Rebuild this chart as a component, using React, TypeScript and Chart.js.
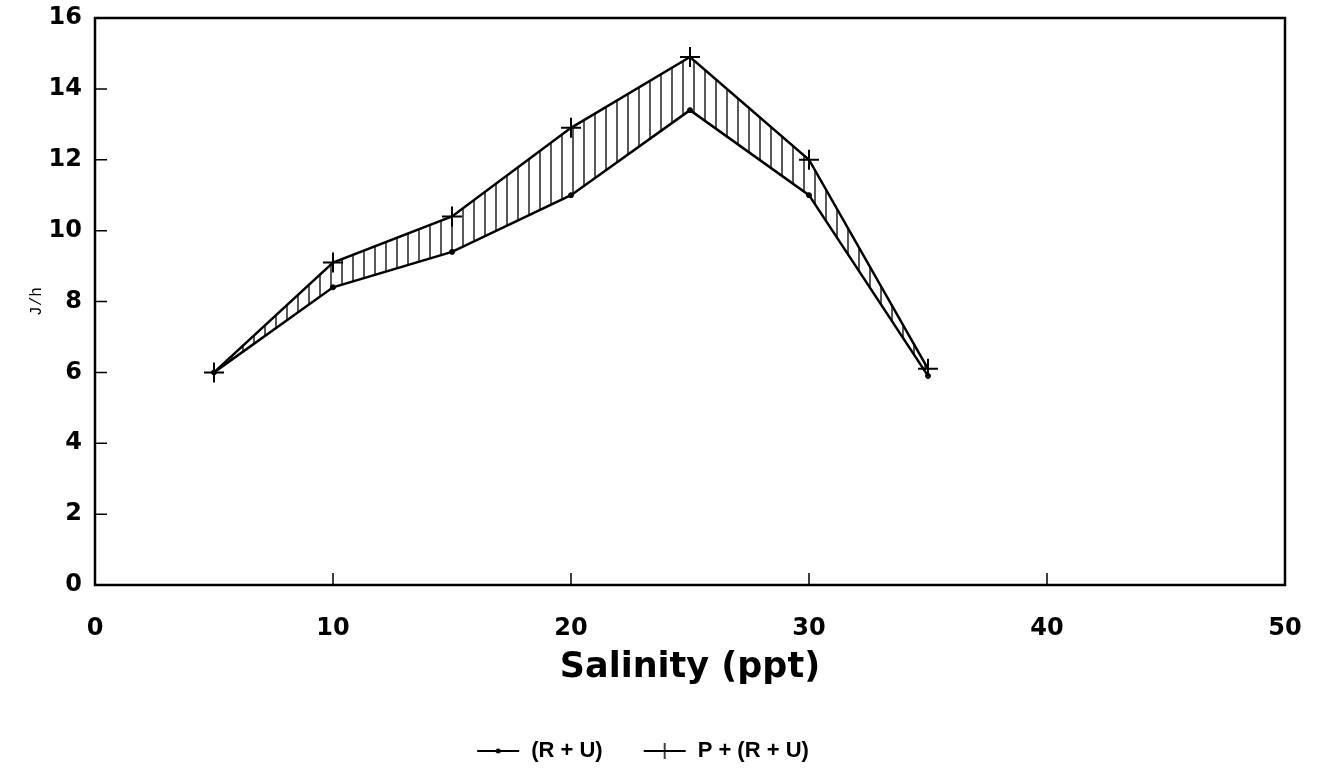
import React, { useEffect, useRef } from "react";
import { Chart, registerables } from "chart.js";

Chart.register(...registerables);

const salinity = [5, 10, 15, 20, 25, 30, 35];
const ruValues = [6.0, 8.4, 9.4, 11.0, 13.4, 11.0, 5.9];
const pruValues = [6.0, 9.1, 10.4, 12.9, 14.9, 12.0, 6.1];
const xTickValues = [0, 10, 20, 30, 40, 50];
const yTickValues = [0, 2, 4, 6, 8, 10, 12, 14, 16];
const seriesLabels = ["(R + U)", "P + (R + U)"];
const xTitle = "Salinity (ppt)";
const yTitle = "J/h";

function makeIcon(kind: "dot" | "cross"): HTMLCanvasElement {
  const c = document.createElement("canvas");
  c.width = 44;
  c.height = 20;
  const g = c.getContext("2d")!;
  g.strokeStyle = "#000";
  g.fillStyle = "#000";
  g.lineWidth = 2;
  g.beginPath();
  g.moveTo(1, 10);
  g.lineTo(43, 10);
  g.stroke();
  if (kind === "dot") {
    g.beginPath();
    g.arc(22, 10, 2.5, 0, Math.PI * 2);
    g.fill();
  } else {
    g.lineWidth = 1.5;
    g.beginPath();
    g.moveTo(22, 2);
    g.lineTo(22, 18);
    g.stroke();
  }
  return c;
}

function makeHatch(ctx: CanvasRenderingContext2D): CanvasPattern | string {
  const c = document.createElement("canvas");
  c.width = 11;
  c.height = 11;
  const g = c.getContext("2d")!;
  g.strokeStyle = "#000";
  g.lineWidth = 1.3;
  g.beginPath();
  g.moveTo(1, 0);
  g.lineTo(1, 11);
  g.stroke();
  return ctx.createPattern(c, "repeat") || "rgba(0,0,0,0.2)";
}

const framePlugin = {
  id: "frameTicks",
  afterDatasetsDraw(chart: any) {
    const { ctx, chartArea, scales } = chart;
    const { left, right, top, bottom } = chartArea;
    ctx.save();
    ctx.strokeStyle = "#000";
    ctx.lineWidth = 2.5;
    ctx.strokeRect(left, top, right - left, bottom - top);
    ctx.lineWidth = 1.5;
    ctx.beginPath();
    xTickValues.forEach((v) => {
      if (v === xTickValues[0] || v === xTickValues[xTickValues.length - 1]) return;
      const px = scales.x.getPixelForValue(v);
      ctx.moveTo(px, bottom);
      ctx.lineTo(px, bottom - 12);
    });
    yTickValues.forEach((v) => {
      if (v === yTickValues[0] || v === yTickValues[yTickValues.length - 1]) return;
      const py = scales.y.getPixelForValue(v);
      ctx.moveTo(left, py);
      ctx.lineTo(left + 12, py);
    });
    ctx.stroke();
    ctx.restore();
  },
};

export default function App() {
  const ref = useRef<HTMLCanvasElement | null>(null);

  useEffect(() => {
    const canvas = ref.current!;
    const ctx = canvas.getContext("2d")!;
    const icons = [makeIcon("dot"), makeIcon("cross")];
    const hatch = makeHatch(ctx);
    const tickFont = { family: "'DejaVu Sans', sans-serif", size: 24, weight: "bold" as const };
    const legendFont = { family: "'Liberation Sans', Arial, sans-serif", size: 22, weight: "bold" as const };

    const chart = new Chart(ctx, {
      type: "line",
      data: {
        datasets: [
          {
            label: seriesLabels[0],
            data: salinity.map((x, i) => ({ x, y: ruValues[i] })),
            borderColor: "#000",
            backgroundColor: "#000",
            borderWidth: 2.5,
            pointStyle: "circle",
            pointRadius: 2.5,
            pointBorderWidth: 1,
            fill: false,
            tension: 0,
          },
          {
            label: seriesLabels[1],
            data: salinity.map((x, i) => ({ x, y: pruValues[i] })),
            borderColor: "#000",
            backgroundColor: hatch as any,
            pointBackgroundColor: "#000",
            borderWidth: 2.5,
            pointStyle: "cross",
            pointRadius: 10,
            pointBorderWidth: 2,
            fill: "-1",
            tension: 0,
          },
        ],
      },
      options: {
        animation: false,
        responsive: false,
        layout: { padding: { top: 18, right: 35, bottom: 12, left: 0 } },
        plugins: {
          tooltip: { enabled: false },
          legend: {
            position: "bottom",
            labels: {
              usePointStyle: true,
              pointStyleWidth: 44,
              color: "#000",
              padding: 40,
              font: legendFont,
              generateLabels: () =>
                seriesLabels.map((t, i) => ({
                  text: t,
                  pointStyle: icons[i] as any,
                  fillStyle: "#000",
                  strokeStyle: "#000",
                  lineWidth: 0,
                  hidden: false,
                  datasetIndex: i,
                  fontColor: "#000",
                })),
            },
          },
        },
        scales: {
          x: {
            type: "linear",
            min: 0,
            max: 50,
            afterFit: (s: any) => {
              s.height = 115;
              s.paddingLeft = 0;
              s.paddingRight = 0;
            },
            afterBuildTicks: (s: any) => {
              s.ticks = xTickValues.map((v) => ({ value: v }));
            },
            grid: { display: false, drawTicks: false },
            border: { display: false },
            ticks: { color: "#000", font: tickFont, padding: 29, maxRotation: 0 },
            title: {
              display: true,
              text: xTitle,
              color: "#000",
              font: { family: "'DejaVu Sans', sans-serif", size: 35, weight: "bold" },
              padding: { top: 0, bottom: 11 },
            },
          },
          y: {
            type: "linear",
            min: 0,
            max: 16,
            afterFit: (s: any) => {
              s.width = 95;
              s.paddingTop = 0;
              s.paddingBottom = 0;
            },
            afterBuildTicks: (s: any) => {
              s.ticks = yTickValues.map((v) => ({ value: v }));
            },
            grid: { display: false, drawTicks: false },
            border: { display: false },
            ticks: { color: "#000", font: tickFont, padding: 13 },
            title: {
              display: true,
              text: yTitle,
              color: "#000",
              font: { family: "'Liberation Mono', 'DejaVu Sans Mono', monospace", size: 16 },
              padding: { top: 27, bottom: 0 },
            },
          },
        },
      },
      plugins: [framePlugin],
    });
    return () => chart.destroy();
  }, []);

  return (
    <div style={{ position: "absolute", left: 0, top: 0, width: 1320, height: 784, background: "#fff" }}>
      <canvas ref={ref} width={1320} height={784} />
    </div>
  );
}
